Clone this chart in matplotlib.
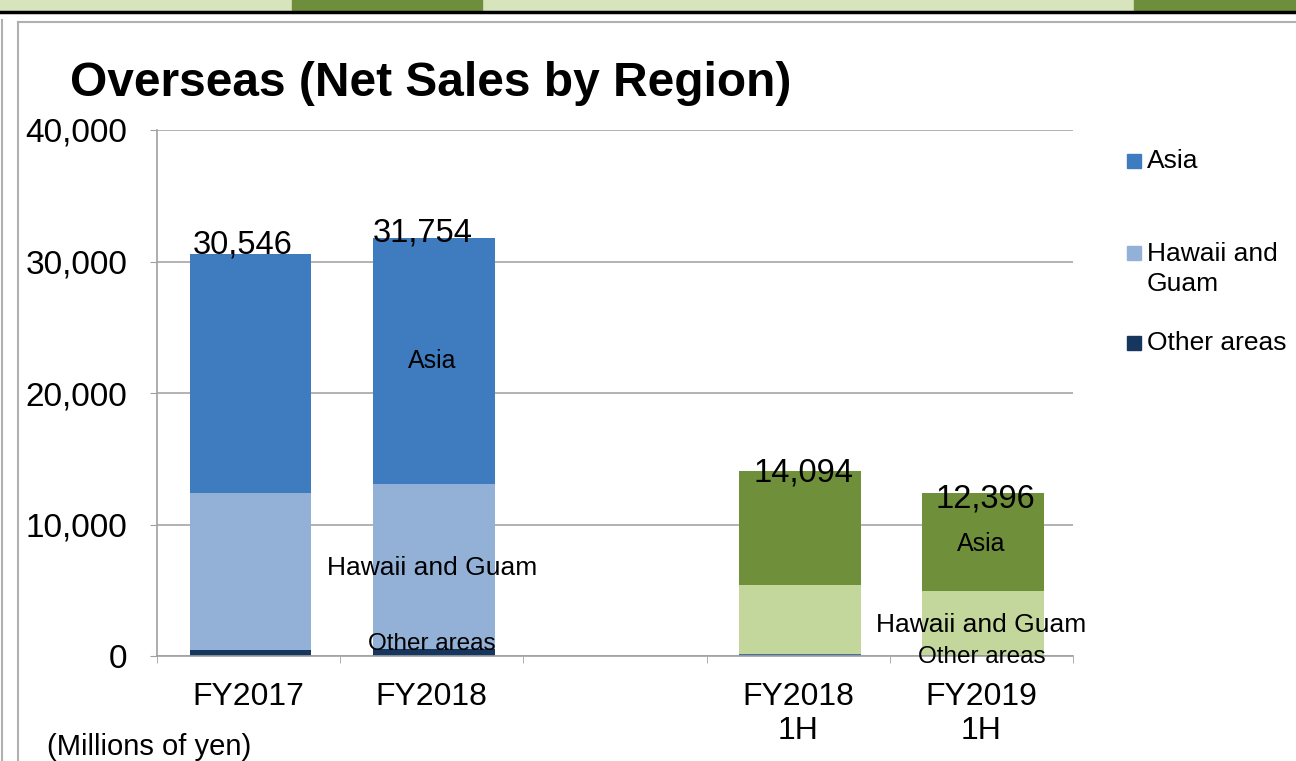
import matplotlib.pyplot as plt
from matplotlib.patches import Rectangle

plt.rcParams['font.family'] = ['Liberation Sans', 'DejaVu Sans']

# Net sales by region, millions of yen
periods = ['FY2017', 'FY2018', '', 'FY2018\n1H', 'FY2019\n1H']
asia = [18146, 18674, 0, 8694, 7456]
hawaii_guam = [11950, 12580, 0, 5270, 4880]
other = [450, 500, 0, 130, 60]
totals = [30546, 31754, None, 14094, 12396]

blue = ['#3F7CBF', '#93B1D7', '#17365D']
green = ['#6F8F3A', '#C3D69B', '#4A6E9A']
bar_colors = [blue, blue, blue, green, green]

fig = plt.figure(figsize=(12.96, 7.61), dpi=100)
ax = fig.add_axes([157 / 1296, 1 - 656 / 761, 916 / 1296, 526 / 761])

x = range(len(periods))
for i in x:
    c = bar_colors[i]
    ax.bar(i + 0.01, other[i], width=0.665, color=c[2], zorder=3)
    ax.bar(i + 0.01, hawaii_guam[i], width=0.665, bottom=other[i], color=c[1], zorder=3)
    ax.bar(i + 0.01, asia[i], width=0.665, bottom=other[i] + hawaii_guam[i], color=c[0], zorder=3)

# total labels
tot_offsets = {0: (-0.03, 700), 1: (-0.05, 450), 3: (0.03, -150), 4: (0.02, -450)}
for i, t in enumerate(totals):
    if t is None:
        continue
    dx, dy = tot_offsets[i]
    ax.text(i + dx, t + dy, f'{t:,}', ha='center', va='center', fontsize=23.5, zorder=5)

# segment labels
ax.text(1, 22400, 'Asia', ha='center', va='center', fontsize=18, zorder=5)
ax.text(1, 6700, 'Hawaii and Guam', ha='center', va='center', fontsize=19, zorder=5)
ax.text(1, 900, 'Other areas', ha='center', va='center', fontsize=17.5, zorder=5)
ax.text(4, 8500, 'Asia', ha='center', va='center', fontsize=18, zorder=5)
ax.text(4, 2350, 'Hawaii and Guam', ha='center', va='center', fontsize=19, zorder=5)
ax.text(4, -50, 'Other areas', ha='center', va='center', fontsize=17.5, zorder=5)

ax.set_xlim(-0.5, 4.5)
ax.set_ylim(0, 40000)
ax.set_yticks([0, 10000, 20000, 30000, 40000])
ax.set_yticklabels([f'{v:,}' for v in [0, 10000, 20000, 30000, 40000]], fontsize=24)
ax.set_xticks(list(x))
ax.set_xticklabels(periods, fontsize=23, linespacing=1.2)
ax.set_xticks([k - 0.5 for k in range(6)], minor=True)
ax.tick_params(axis='x', which='major', length=0, pad=18.5)
ax.tick_params(axis='x', which='minor', length=5, color='#A0A0A0', direction='out')
ax.tick_params(axis='y', length=5, color='#A0A0A0', pad=16.5)
ax.yaxis.grid(True, color='#A6A6A6', linewidth=1.2, zorder=0)
ax.set_axisbelow(True)
for s in ['top', 'right']:
    ax.spines[s].set_visible(False)
for s in ['left', 'bottom']:
    ax.spines[s].set_color('#A0A0A0')
    ax.spines[s].set_linewidth(1.2)
ax.spines['bottom'].set_zorder(4)

# title and unit
fig.text(70 / 1296, 1 - 83 / 761, 'Overseas (Net Sales by Region)', fontsize=34.5,
         fontweight='bold', ha='left', va='center')
fig.text(47 / 1296, 1 - 747 / 761, '(Millions of yen)', fontsize=21, ha='left', va='center')

# legend drawn by hand
legend_items = [('Asia', blue[0], 161, 'center'), ('Hawaii and\nGuam', blue[1], 242, 'top'),
                ('Other areas', blue[2], 343, 'center')]
for label, col, ypix, va in legend_items:
    sq_y = ypix if va == 'center' else ypix + 11
    fig.add_artist(Rectangle((1127 / 1296, 1 - (sq_y + 7) / 761), 14 / 1296, 14 / 761,
                             transform=fig.transFigure, color=col))
    fig.text(1147 / 1296, 1 - ypix / 761, label, fontsize=19, ha='left', va=va, linespacing=1.3)

# decorative header strip and frame
fig.add_artist(Rectangle((0, 1 - 10 / 761), 1, 10 / 761, transform=fig.transFigure, color='#D7E4BC'))
fig.add_artist(Rectangle((292 / 1296, 1 - 10 / 761), 190 / 1296, 10 / 761, transform=fig.transFigure, color='#6E8E3B'))
fig.add_artist(Rectangle((1134 / 1296, 1 - 10 / 761), 162 / 1296, 10 / 761, transform=fig.transFigure, color='#6E8E3B'))
fig.add_artist(plt.Line2D([0, 1], [1 - 12 / 761] * 2, transform=fig.transFigure, color='black', linewidth=2.5))
fig.add_artist(plt.Line2D([18 / 1296, 1], [1 - 22 / 761] * 2, transform=fig.transFigure, color='#B0B0B0', linewidth=1.5))
fig.add_artist(plt.Line2D([18 / 1296] * 2, [0, 1 - 22 / 761], transform=fig.transFigure, color='#B0B0B0', linewidth=1.5))
fig.add_artist(plt.Line2D([2 / 1296] * 2, [0, 1 - 20 / 761], transform=fig.transFigure, color='#B0B0B0', linewidth=1.5))

fig.savefig('out.png', dpi=100)
